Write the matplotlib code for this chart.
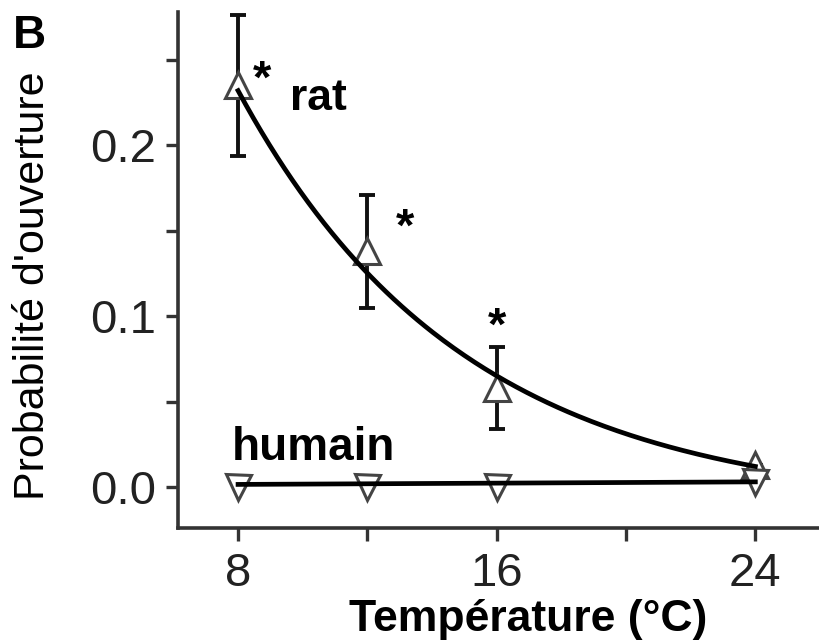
import numpy as np
import matplotlib
matplotlib.use('Agg')
import matplotlib.pyplot as plt

plt.rcParams['font.family'] = ['Liberation Sans', 'DejaVu Sans']

# data
temps = [8, 12, 16, 24]
rat_po = [0.235, 0.138, 0.058, 0.013]
rat_err = [0.041, 0.033, 0.024, 0.0]
humain_po = [0.0, 0.0, 0.0, 0.003]

# exponential fit for rat: c + a*exp(-k*(T-8))
rat_fit_a, rat_fit_k, rat_fit_c = 0.2446, 0.1434, -0.01264
# linear fit for humain (end points)
humain_fit_T = [8, 24]
humain_fit_po = [0.0015, 0.003]

star_T = [8.75, 13.17, 16.0]
star_po = [0.238, 0.151, 0.093]

fig = plt.figure(figsize=(8.2, 6.41), dpi=100)
ax = fig.add_axes([0.217, 0.1763, 0.783, 0.805])

ax.errorbar(temps, rat_po, yerr=rat_err, fmt='none', ecolor='#111111',
            elinewidth=2.8, capsize=6, capthick=2.8, zorder=2)
ax.plot(temps, rat_po, linestyle='none', marker='^', markersize=19,
        markerfacecolor='white', markeredgecolor='#444444', markeredgewidth=2.2, zorder=3)
ax.plot(temps, humain_po, linestyle='none', marker='v', markersize=18,
        markerfacecolor='white', markeredgecolor='#444444', markeredgewidth=2.2, zorder=3)

tt = np.linspace(8, 24, 200)
ax.plot(tt, rat_fit_c + rat_fit_a * np.exp(-rat_fit_k * (tt - 8)), color='black', lw=3.4, zorder=4)
ax.plot(humain_fit_T, humain_fit_po, color='black', lw=3.4, zorder=4)

for x, y in zip(star_T, star_po):
    ax.text(x, y, '*', fontsize=34, fontweight='bold', ha='center', va='center')

ax.text(9.61, 0.2205, 'rat', fontsize=32, fontweight='bold', va='baseline')
ax.text(7.81, 0.0158, 'humain', fontsize=33, fontweight='bold', va='baseline')

ax.set_xlim(6.14, 26.0)
ax.set_ylim(-0.024, 0.278)
ax.set_xticks([8, 16, 24])
ax.set_xticks([12, 20], minor=True)
ax.set_yticks([0.0, 0.1, 0.2])
ax.set_yticklabels(['0.0', '0.1', '0.2'])
ax.set_yticks([0.05, 0.15, 0.25], minor=True)

for s in ['top', 'right']:
    ax.spines[s].set_visible(False)
for s in ['left', 'bottom']:
    ax.spines[s].set_linewidth(2.6)
    ax.spines[s].set_color('#333333')

ax.tick_params(which='both', direction='out', length=9, width=2.4, color='#333333')
ax.tick_params(axis='both', labelsize=34, labelcolor='#222222')
ax.tick_params(axis='y', pad=7)
ax.tick_params(axis='x', pad=8)

fig.text(0.040, 0.555, "Probabilité d'ouverture", rotation=90, fontsize=31,
         ha='center', va='center')
fig.text(0.644, 0.033, 'Température (°C)', fontsize=32, fontweight='bold',
         ha='center', va='center')
fig.text(0.016, 1 - 48 / 641, 'B', fontsize=33, fontweight='bold', va='baseline')

fig.savefig('out.png', dpi=100)
